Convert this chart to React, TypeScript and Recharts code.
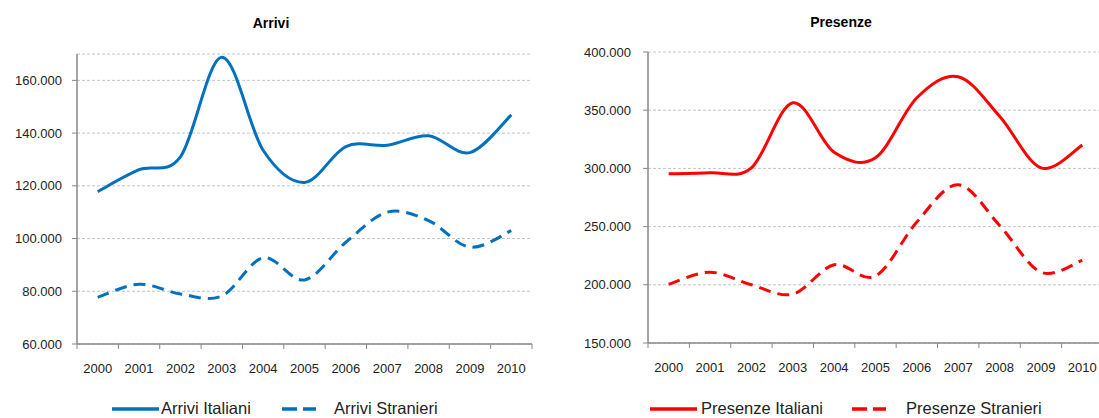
import React from 'react';
import { LineChart, Line, XAxis, YAxis, CartesianGrid } from 'recharts';

// ---------------------------------------------------------------------------
// Data
// ---------------------------------------------------------------------------

const years = ['2000', '2001', '2002', '2003', '2004', '2005', '2006', '2007', '2008', '2009', '2010'];

const arriviItaliani = [117800, 126100, 131000, 168800, 133500, 121300, 134900, 135400, 139000, 132600, 146900];
const arriviStranieri = [77700, 82700, 79000, 78200, 92700, 84300, 98600, 110000, 106800, 96700, 103000];

const presenzeItaliani = [295300, 296200, 300500, 356400, 313800, 309200, 360700, 378800, 344800, 300500, 320000];
const presenzeStranieri = [200500, 210800, 200000, 192000, 217200, 207500, 254000, 286000, 251000, 210800, 221000];

const arriviTicks = [60000, 80000, 100000, 120000, 140000, 160000];
const presenzeTicks = [150000, 200000, 250000, 300000, 350000, 400000];

const arriviData = years.map((year, i) => ({
  year,
  italiani: arriviItaliani[i],
  stranieri: arriviStranieri[i],
}));

const presenzeData = years.map((year, i) => ({
  year,
  italiani: presenzeItaliani[i],
  stranieri: presenzeStranieri[i],
}));

// ---------------------------------------------------------------------------
// Styles
// ---------------------------------------------------------------------------

const FONT = '"Liberation Sans", Arial, sans-serif';
const BLUE = '#0070C0';
const RED = '#FF0000';
const AXIS = '#888888';
const GRID = '#c4c4c4';
const TEXT = '#222222';
const PLOT_W = 455;
const HALF_BAND = PLOT_W / years.length / 2;

const formatThousands = (v: number) => v.toLocaleString('de-DE');

// Excel-like smoothed line (Catmull-Rom through the data points)
const smoothCurve = (context: any) => {
  let pts: number[][] = [];
  return {
    areaStart() {},
    areaEnd() {},
    lineStart() {
      pts = [];
    },
    point(x: number, y: number) {
      pts.push([+x, +y]);
    },
    lineEnd() {
      const n = pts.length;
      if (!n) return;
      context.moveTo(pts[0][0], pts[0][1]);
      for (let i = 0; i < n - 1; i++) {
        const p0 = pts[Math.max(i - 1, 0)];
        const p1 = pts[i];
        const p2 = pts[i + 1];
        const p3 = pts[Math.min(i + 2, n - 1)];
        context.bezierCurveTo(
          p1[0] + (p2[0] - p0[0]) / 6,
          p1[1] + (p2[1] - p0[1]) / 6,
          p2[0] - (p3[0] - p1[0]) / 6,
          p2[1] - (p3[1] - p1[1]) / 6,
          p2[0],
          p2[1]
        );
      }
    },
  };
};

// category tick: marks between categories, label in the middle
function YearTick(props: any) {
  const { x, y, payload, index, visibleTicksCount } = props;
  return (
    <g>
      <line x1={x - HALF_BAND} x2={x - HALF_BAND} y1={y} y2={y + 5} stroke={AXIS} strokeWidth={1} />
      {index === visibleTicksCount - 1 && (
        <line x1={x + HALF_BAND} x2={x + HALF_BAND} y1={y} y2={y + 5} stroke={AXIS} strokeWidth={1} />
      )}
      <text x={x} y={y + 29} textAnchor="middle" fontSize={13} fontFamily={FONT} fill={TEXT}>
        {payload.value}
      </text>
    </g>
  );
}

interface PanelProps {
  data: any[];
  color: string;
  domain: number[];
  ticks: number[];
  width: number;
  yAxisWidth: number;
  margin: { top: number; right: number; bottom: number; left: number };
  tickMargin: number;
}

function Panel({ data, color, domain, ticks, width, yAxisWidth, margin, tickMargin }: PanelProps) {
  return (
    <LineChart width={width} height={418} data={data} margin={margin}>
      <CartesianGrid vertical={false} stroke={GRID} strokeDasharray="3 2" />
      <XAxis
        dataKey="year"
        height={30}
        padding={{ left: HALF_BAND, right: HALF_BAND }}
        axisLine={{ stroke: AXIS, strokeWidth: 1.5 }}
        tickLine={false}
        tickSize={0}
        tickMargin={0}
        interval={0}
        tick={<YearTick />}
      />
      <YAxis
        width={yAxisWidth}
        domain={domain}
        ticks={ticks}
        interval={0}
        allowDataOverflow
        tickFormatter={formatThousands}
        axisLine={{ stroke: AXIS, strokeWidth: 1.5 }}
        tickLine={{ stroke: AXIS }}
        tickSize={5}
        tickMargin={tickMargin}
        tick={{ fontSize: 13, fontFamily: FONT, fill: TEXT }}
      />
      <Line
        dataKey="italiani"
        type={smoothCurve as any}
        stroke={color}
        strokeWidth={3}
        dot={false}
        activeDot={false}
        isAnimationActive={false}
      />
      <Line
        dataKey="stranieri"
        type={smoothCurve as any}
        stroke={color}
        strokeWidth={3}
        strokeDasharray="12 7"
        dot={false}
        activeDot={false}
        isAnimationActive={false}
      />
    </LineChart>
  );
}

function LegendItem({ x, color, dashed, label, textX }: any) {
  return (
    <g>
      <line
        x1={x}
        x2={x + (dashed ? 34 : 47)}
        y1={409}
        y2={409}
        stroke={color}
        strokeWidth={3.5}
        strokeDasharray={dashed ? '15 6' : undefined}
      />
      <text x={textX} y={414} fontSize={16.5} fontFamily={FONT} fill={TEXT}>
        {label}
      </text>
    </g>
  );
}

export default function App() {
  return (
    <div
      style={{
        position: 'absolute',
        left: 0,
        top: 0,
        width: 1099,
        height: 418,
        overflow: 'hidden',
        background: '#ffffff',
      }}
    >
      <div style={{ position: 'absolute', left: 0, top: 0 }}>
        <Panel
          data={arriviData}
          color={BLUE}
          domain={[60000, 170000]}
          ticks={arriviTicks}
          width={545}
          yAxisWidth={77}
          margin={{ top: 54, right: 13, bottom: 44, left: 0 }}
          tickMargin={10}
        />
      </div>
      <div style={{ position: 'absolute', left: 550, top: 0 }}>
        <Panel
          data={presenzeData}
          color={RED}
          domain={[150000, 400000]}
          ticks={presenzeTicks}
          width={560}
          yAxisWidth={98}
          margin={{ top: 52, right: 7, bottom: 45, left: 0 }}
          tickMargin={12}
        />
      </div>
      <svg
        width={1099}
        height={418}
        style={{ position: 'absolute', left: 0, top: 0, pointerEvents: 'none' }}
      >
        <text x={271} y={28} textAnchor="middle" fontSize={14} fontWeight="bold" fontFamily={FONT} fill="#000">
          Arrivi
        </text>
        <text x={841} y={27} textAnchor="middle" fontSize={14} fontWeight="bold" fontFamily={FONT} fill="#000">
          Presenze
        </text>
        <LegendItem x={112} textX={161} color={BLUE} label="Arrivi Italiani" />
        <LegendItem x={282} textX={334} color={BLUE} dashed label="Arrivi Stranieri" />
        <LegendItem x={650} textX={701} color={RED} label="Presenze Italiani" />
        <LegendItem x={852} textX={906} color={RED} dashed label="Presenze Stranieri" />
      </svg>
    </div>
  );
}
